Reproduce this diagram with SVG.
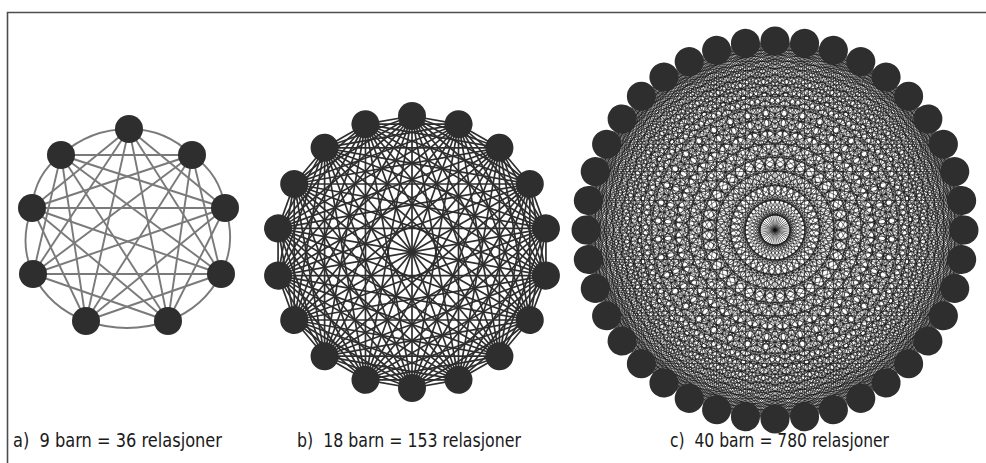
<svg xmlns="http://www.w3.org/2000/svg" width="986" height="463" viewBox="0 0 986 463">
<style>
.frame{fill:none;stroke:#4d4d4d;stroke-width:1.6}
.ea line,.ea path{stroke:#7a7a7a;stroke-width:1.9;fill:none}
.fb{stroke:#2e2e2e;stroke-width:1.7}
.fc{stroke:#111;stroke-width:0.9;stroke-opacity:0.6}
.node circle{fill:#2e2e2e}
.lbl{font-family:"DejaVu Sans Condensed","Liberation Sans",sans-serif;font-stretch:condensed;font-size:20px;fill:#1a1a1a}
</style>
<defs>
<g id="fanB" class="fb">
<line x1="0" y1="-136" x2="46.51" y2="-127.8"/>
<line x1="0" y1="-136" x2="87.42" y2="-104.18"/>
<line x1="0" y1="-136" x2="117.78" y2="-68"/>
<line x1="0" y1="-136" x2="133.93" y2="-23.62"/>
<line x1="0" y1="-136" x2="133.93" y2="23.62"/>
<line x1="0" y1="-136" x2="117.78" y2="68"/>
<line x1="0" y1="-136" x2="87.42" y2="104.18"/>
<line x1="0" y1="-136" x2="46.51" y2="127.8"/>
</g>
<line id="diaB" class="fb" x1="0" y1="-136" x2="0" y2="136"/>
<g id="fanC" class="fc">
<line x1="0" y1="-189" x2="29.57" y2="-186.67"/>
<line x1="0" y1="-189" x2="58.4" y2="-179.75"/>
<line x1="0" y1="-189" x2="85.8" y2="-168.4"/>
<line x1="0" y1="-189" x2="111.09" y2="-152.9"/>
<line x1="0" y1="-189" x2="133.64" y2="-133.64"/>
<line x1="0" y1="-189" x2="152.9" y2="-111.09"/>
<line x1="0" y1="-189" x2="168.4" y2="-85.8"/>
<line x1="0" y1="-189" x2="179.75" y2="-58.4"/>
<line x1="0" y1="-189" x2="186.67" y2="-29.57"/>
<line x1="0" y1="-189" x2="189" y2="0"/>
<line x1="0" y1="-189" x2="186.67" y2="29.57"/>
<line x1="0" y1="-189" x2="179.75" y2="58.4"/>
<line x1="0" y1="-189" x2="168.4" y2="85.8"/>
<line x1="0" y1="-189" x2="152.9" y2="111.09"/>
<line x1="0" y1="-189" x2="133.64" y2="133.64"/>
<line x1="0" y1="-189" x2="111.09" y2="152.9"/>
<line x1="0" y1="-189" x2="85.8" y2="168.4"/>
<line x1="0" y1="-189" x2="58.4" y2="179.75"/>
<line x1="0" y1="-189" x2="29.57" y2="186.67"/>
</g>
<line id="diaC" class="fc" x1="0" y1="-189" x2="0" y2="189"/>
</defs>

<path class="frame" d="M7.5,463 V12.5 H986"/>

<g id="connectors">
<g id="edges-a" class="ea">
<path d="M129,129 Q165.5,129 192,155"/>
<path d="M192,155 Q220.5,174.5 225,208"/>
<path d="M225,208 Q237,243 221,274"/>
<path d="M221,274 Q204,307.5 168,321"/>
<path d="M168,321 Q127,335 86,321"/>
<path d="M86,321 Q49.5,307.5 33,274"/>
<path d="M33,274 Q18.5,243 32,208"/>
<path d="M32,208 Q34.5,174.5 61,155"/>
<path d="M61,155 Q90,129 129,129"/>
<line x1="129" y1="129" x2="225" y2="208"/>
<line x1="129" y1="129" x2="221" y2="274"/>
<line x1="129" y1="129" x2="168" y2="321"/>
<line x1="129" y1="129" x2="86" y2="321"/>
<line x1="129" y1="129" x2="33" y2="274"/>
<line x1="129" y1="129" x2="32" y2="208"/>
<line x1="192" y1="155" x2="221" y2="274"/>
<line x1="192" y1="155" x2="168" y2="321"/>
<line x1="192" y1="155" x2="86" y2="321"/>
<line x1="192" y1="155" x2="33" y2="274"/>
<line x1="192" y1="155" x2="32" y2="208"/>
<line x1="192" y1="155" x2="61" y2="155"/>
<line x1="225" y1="208" x2="168" y2="321"/>
<line x1="225" y1="208" x2="86" y2="321"/>
<line x1="225" y1="208" x2="33" y2="274"/>
<line x1="225" y1="208" x2="32" y2="208"/>
<line x1="225" y1="208" x2="61" y2="155"/>
<line x1="221" y1="274" x2="86" y2="321"/>
<line x1="221" y1="274" x2="33" y2="274"/>
<line x1="221" y1="274" x2="32" y2="208"/>
<line x1="221" y1="274" x2="61" y2="155"/>
<line x1="168" y1="321" x2="33" y2="274"/>
<line x1="168" y1="321" x2="32" y2="208"/>
<line x1="168" y1="321" x2="61" y2="155"/>
<line x1="86" y1="321" x2="32" y2="208"/>
<line x1="86" y1="321" x2="61" y2="155"/>
<line x1="33" y1="274" x2="61" y2="155"/>
</g>
<g id="edges-b" transform="translate(412,252)">
<use href="#fanB"/>
<use href="#fanB" transform="rotate(20)"/>
<use href="#fanB" transform="rotate(40)"/>
<use href="#fanB" transform="rotate(60)"/>
<use href="#fanB" transform="rotate(80)"/>
<use href="#fanB" transform="rotate(100)"/>
<use href="#fanB" transform="rotate(120)"/>
<use href="#fanB" transform="rotate(140)"/>
<use href="#fanB" transform="rotate(160)"/>
<use href="#fanB" transform="rotate(180)"/>
<use href="#fanB" transform="rotate(200)"/>
<use href="#fanB" transform="rotate(220)"/>
<use href="#fanB" transform="rotate(240)"/>
<use href="#fanB" transform="rotate(260)"/>
<use href="#fanB" transform="rotate(280)"/>
<use href="#fanB" transform="rotate(300)"/>
<use href="#fanB" transform="rotate(320)"/>
<use href="#fanB" transform="rotate(340)"/>
<use href="#diaB"/>
<use href="#diaB" transform="rotate(20)"/>
<use href="#diaB" transform="rotate(40)"/>
<use href="#diaB" transform="rotate(60)"/>
<use href="#diaB" transform="rotate(80)"/>
<use href="#diaB" transform="rotate(100)"/>
<use href="#diaB" transform="rotate(120)"/>
<use href="#diaB" transform="rotate(140)"/>
<use href="#diaB" transform="rotate(160)"/>
</g>
<g id="edges-c" transform="translate(775,230)">
<use href="#fanC"/>
<use href="#fanC" transform="rotate(9)"/>
<use href="#fanC" transform="rotate(18)"/>
<use href="#fanC" transform="rotate(27)"/>
<use href="#fanC" transform="rotate(36)"/>
<use href="#fanC" transform="rotate(45)"/>
<use href="#fanC" transform="rotate(54)"/>
<use href="#fanC" transform="rotate(63)"/>
<use href="#fanC" transform="rotate(72)"/>
<use href="#fanC" transform="rotate(81)"/>
<use href="#fanC" transform="rotate(90)"/>
<use href="#fanC" transform="rotate(99)"/>
<use href="#fanC" transform="rotate(108)"/>
<use href="#fanC" transform="rotate(117)"/>
<use href="#fanC" transform="rotate(126)"/>
<use href="#fanC" transform="rotate(135)"/>
<use href="#fanC" transform="rotate(144)"/>
<use href="#fanC" transform="rotate(153)"/>
<use href="#fanC" transform="rotate(162)"/>
<use href="#fanC" transform="rotate(171)"/>
<use href="#fanC" transform="rotate(180)"/>
<use href="#fanC" transform="rotate(189)"/>
<use href="#fanC" transform="rotate(198)"/>
<use href="#fanC" transform="rotate(207)"/>
<use href="#fanC" transform="rotate(216)"/>
<use href="#fanC" transform="rotate(225)"/>
<use href="#fanC" transform="rotate(234)"/>
<use href="#fanC" transform="rotate(243)"/>
<use href="#fanC" transform="rotate(252)"/>
<use href="#fanC" transform="rotate(261)"/>
<use href="#fanC" transform="rotate(270)"/>
<use href="#fanC" transform="rotate(279)"/>
<use href="#fanC" transform="rotate(288)"/>
<use href="#fanC" transform="rotate(297)"/>
<use href="#fanC" transform="rotate(306)"/>
<use href="#fanC" transform="rotate(315)"/>
<use href="#fanC" transform="rotate(324)"/>
<use href="#fanC" transform="rotate(333)"/>
<use href="#fanC" transform="rotate(342)"/>
<use href="#fanC" transform="rotate(351)"/>
<use href="#diaC"/>
<use href="#diaC" transform="rotate(9)"/>
<use href="#diaC" transform="rotate(18)"/>
<use href="#diaC" transform="rotate(27)"/>
<use href="#diaC" transform="rotate(36)"/>
<use href="#diaC" transform="rotate(45)"/>
<use href="#diaC" transform="rotate(54)"/>
<use href="#diaC" transform="rotate(63)"/>
<use href="#diaC" transform="rotate(72)"/>
<use href="#diaC" transform="rotate(81)"/>
<use href="#diaC" transform="rotate(90)"/>
<use href="#diaC" transform="rotate(99)"/>
<use href="#diaC" transform="rotate(108)"/>
<use href="#diaC" transform="rotate(117)"/>
<use href="#diaC" transform="rotate(126)"/>
<use href="#diaC" transform="rotate(135)"/>
<use href="#diaC" transform="rotate(144)"/>
<use href="#diaC" transform="rotate(153)"/>
<use href="#diaC" transform="rotate(162)"/>
<use href="#diaC" transform="rotate(171)"/>
</g>
</g>

<g id="nodes-a">
<g id="a1" class="node"><circle cx="129" cy="129" r="14"/></g>
<g id="a2" class="node"><circle cx="192" cy="155" r="14"/></g>
<g id="a3" class="node"><circle cx="225" cy="208" r="14"/></g>
<g id="a4" class="node"><circle cx="221" cy="274" r="14"/></g>
<g id="a5" class="node"><circle cx="168" cy="321" r="14"/></g>
<g id="a6" class="node"><circle cx="86" cy="321" r="14"/></g>
<g id="a7" class="node"><circle cx="33" cy="274" r="14"/></g>
<g id="a8" class="node"><circle cx="32" cy="208" r="14"/></g>
<g id="a9" class="node"><circle cx="61" cy="155" r="14"/></g>
</g>

<g id="nodes-b" transform="translate(412,252)">
<g id="b1" class="node"><circle cy="-136" r="14"/></g>
<g id="b2" class="node" transform="rotate(20)"><circle cy="-136" r="14"/></g>
<g id="b3" class="node" transform="rotate(40)"><circle cy="-136" r="14"/></g>
<g id="b4" class="node" transform="rotate(60)"><circle cy="-136" r="14"/></g>
<g id="b5" class="node" transform="rotate(80)"><circle cy="-136" r="14"/></g>
<g id="b6" class="node" transform="rotate(100)"><circle cy="-136" r="14"/></g>
<g id="b7" class="node" transform="rotate(120)"><circle cy="-136" r="14"/></g>
<g id="b8" class="node" transform="rotate(140)"><circle cy="-136" r="14"/></g>
<g id="b9" class="node" transform="rotate(160)"><circle cy="-136" r="14"/></g>
<g id="b10" class="node" transform="rotate(180)"><circle cy="-136" r="14"/></g>
<g id="b11" class="node" transform="rotate(200)"><circle cy="-136" r="14"/></g>
<g id="b12" class="node" transform="rotate(220)"><circle cy="-136" r="14"/></g>
<g id="b13" class="node" transform="rotate(240)"><circle cy="-136" r="14"/></g>
<g id="b14" class="node" transform="rotate(260)"><circle cy="-136" r="14"/></g>
<g id="b15" class="node" transform="rotate(280)"><circle cy="-136" r="14"/></g>
<g id="b16" class="node" transform="rotate(300)"><circle cy="-136" r="14"/></g>
<g id="b17" class="node" transform="rotate(320)"><circle cy="-136" r="14"/></g>
<g id="b18" class="node" transform="rotate(340)"><circle cy="-136" r="14"/></g>
</g>

<g id="nodes-c" transform="translate(775,230)">
<g id="c1" class="node"><circle cy="-189" r="14.5"/></g>
<g id="c2" class="node" transform="rotate(9)"><circle cy="-189" r="14.5"/></g>
<g id="c3" class="node" transform="rotate(18)"><circle cy="-189" r="14.5"/></g>
<g id="c4" class="node" transform="rotate(27)"><circle cy="-189" r="14.5"/></g>
<g id="c5" class="node" transform="rotate(36)"><circle cy="-189" r="14.5"/></g>
<g id="c6" class="node" transform="rotate(45)"><circle cy="-189" r="14.5"/></g>
<g id="c7" class="node" transform="rotate(54)"><circle cy="-189" r="14.5"/></g>
<g id="c8" class="node" transform="rotate(63)"><circle cy="-189" r="14.5"/></g>
<g id="c9" class="node" transform="rotate(72)"><circle cy="-189" r="14.5"/></g>
<g id="c10" class="node" transform="rotate(81)"><circle cy="-189" r="14.5"/></g>
<g id="c11" class="node" transform="rotate(90)"><circle cy="-189" r="14.5"/></g>
<g id="c12" class="node" transform="rotate(99)"><circle cy="-189" r="14.5"/></g>
<g id="c13" class="node" transform="rotate(108)"><circle cy="-189" r="14.5"/></g>
<g id="c14" class="node" transform="rotate(117)"><circle cy="-189" r="14.5"/></g>
<g id="c15" class="node" transform="rotate(126)"><circle cy="-189" r="14.5"/></g>
<g id="c16" class="node" transform="rotate(135)"><circle cy="-189" r="14.5"/></g>
<g id="c17" class="node" transform="rotate(144)"><circle cy="-189" r="14.5"/></g>
<g id="c18" class="node" transform="rotate(153)"><circle cy="-189" r="14.5"/></g>
<g id="c19" class="node" transform="rotate(162)"><circle cy="-189" r="14.5"/></g>
<g id="c20" class="node" transform="rotate(171)"><circle cy="-189" r="14.5"/></g>
<g id="c21" class="node" transform="rotate(180)"><circle cy="-189" r="14.5"/></g>
<g id="c22" class="node" transform="rotate(189)"><circle cy="-189" r="14.5"/></g>
<g id="c23" class="node" transform="rotate(198)"><circle cy="-189" r="14.5"/></g>
<g id="c24" class="node" transform="rotate(207)"><circle cy="-189" r="14.5"/></g>
<g id="c25" class="node" transform="rotate(216)"><circle cy="-189" r="14.5"/></g>
<g id="c26" class="node" transform="rotate(225)"><circle cy="-189" r="14.5"/></g>
<g id="c27" class="node" transform="rotate(234)"><circle cy="-189" r="14.5"/></g>
<g id="c28" class="node" transform="rotate(243)"><circle cy="-189" r="14.5"/></g>
<g id="c29" class="node" transform="rotate(252)"><circle cy="-189" r="14.5"/></g>
<g id="c30" class="node" transform="rotate(261)"><circle cy="-189" r="14.5"/></g>
<g id="c31" class="node" transform="rotate(270)"><circle cy="-189" r="14.5"/></g>
<g id="c32" class="node" transform="rotate(279)"><circle cy="-189" r="14.5"/></g>
<g id="c33" class="node" transform="rotate(288)"><circle cy="-189" r="14.5"/></g>
<g id="c34" class="node" transform="rotate(297)"><circle cy="-189" r="14.5"/></g>
<g id="c35" class="node" transform="rotate(306)"><circle cy="-189" r="14.5"/></g>
<g id="c36" class="node" transform="rotate(315)"><circle cy="-189" r="14.5"/></g>
<g id="c37" class="node" transform="rotate(324)"><circle cy="-189" r="14.5"/></g>
<g id="c38" class="node" transform="rotate(333)"><circle cy="-189" r="14.5"/></g>
<g id="c39" class="node" transform="rotate(342)"><circle cy="-189" r="14.5"/></g>
<g id="c40" class="node" transform="rotate(351)"><circle cy="-189" r="14.5"/></g>
</g>

<g id="labels">
<text class="lbl" x="13" y="447" xml:space="preserve" textLength="209" lengthAdjust="spacingAndGlyphs">a)  9 barn = 36 relasjoner</text>
<text class="lbl" x="297" y="447" xml:space="preserve" textLength="224" lengthAdjust="spacingAndGlyphs">b)  18 barn = 153 relasjoner</text>
<text class="lbl" x="670" y="447" xml:space="preserve" textLength="219" lengthAdjust="spacingAndGlyphs">c)  40 barn = 780 relasjoner</text>
</g>
</svg>
